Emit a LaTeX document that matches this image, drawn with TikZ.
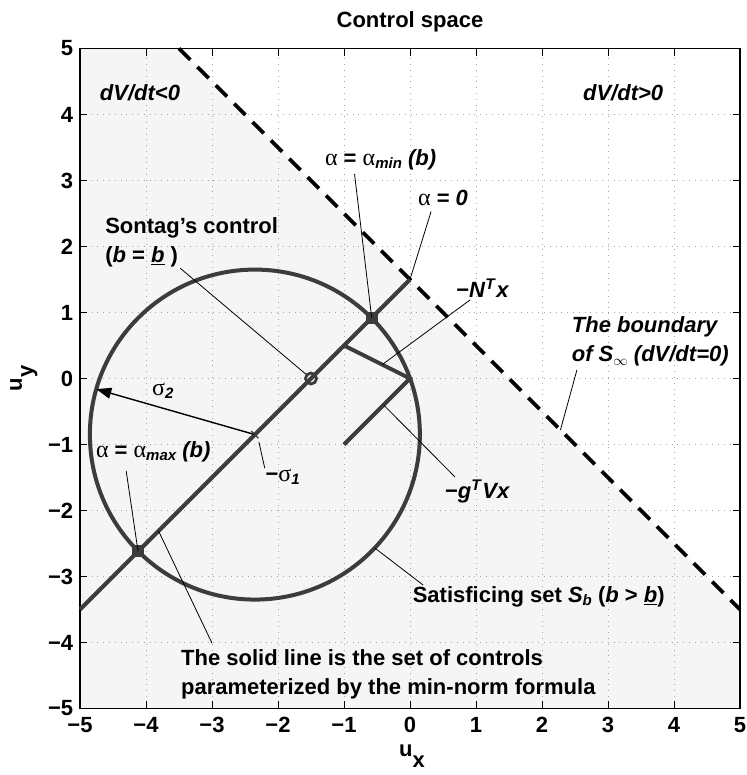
\documentclass[tikz,border=0pt]{standalone}
\usepackage{fontspec}
\setmainfont{Liberation Sans}
\newfontfamily\grk{Liberation Serif}
\usetikzlibrary{arrows.meta,shapes.misc}

\definecolor{darkline}{HTML}{3C3C3C}
\definecolor{regionfill}{HTML}{F5F5F5}
\newcommand{\lblfont}{\fontsize{22}{29}\selectfont\bfseries}
\newcommand{\lowtxt}[1]{\raisebox{-0.12em}{\fontsize{15}{15}\selectfont\bfseries\itshape #1}}
\newcommand{\gr}[1]{{\grk\mdseries\upshape\fontsize{24}{29}\selectfont #1}}

\tikzset{
  curve/.style={line width=4pt,draw=darkline},
  bound/.style={line width=3.8pt,dash pattern=on 16pt off 10pt},
  gridline/.style={gray!70,line width=0.7pt,dash pattern=on 0.8pt off 5pt},
  tickline/.style={line width=0.8pt},
  leader/.style={line width=0.8pt},
  lbl/.style={inner sep=0pt,anchor=west,font=\lblfont,align=left},
  ticklbl/.style={inner sep=0pt,font=\lblfont},
  sqmark/.style={rectangle,fill=darkline,minimum size=12pt,inner sep=0pt},
  ringmark/.style={circle,draw=darkline,line width=2.8pt,minimum size=11pt,inner sep=0pt},
  crossmark/.style={cross out,draw=darkline,line width=1.2pt,minimum size=6pt,inner sep=0pt}
}

\begin{document}
\begin{tikzpicture}[x=66pt,y=66pt]
    \useasboundingbox (-6.212,-6.008) rectangle (5.106,5.735);
    % half plane dV/dt<0
    \fill[regionfill] (-5,-5) -- (5,-5) -- (5,-3.5) -- (-3.5,5) -- (-5,5) -- cycle;
    \foreach \k in {-4,...,4} {
        \draw[gridline] (\k,-5) -- (\k,5);
        \draw[gridline] (-5,\k) -- (5,\k);
    }
    \foreach \k in {-5,...,5} {
        \draw[tickline] (\k,-5) -- ++(0,0.11);
        \draw[tickline] (\k,5) -- ++(0,-0.11);
        \draw[tickline] (-5,\k) -- ++(0.11,0);
        \draw[tickline] (5,\k) -- ++(-0.11,0);
    }
    \foreach \k/\t in {-5/−5,-4/−4,-3/−3,-2/−2,-1/−1,0/0,1/1,2/2,3/3,4/4,5/5} {
        \node[ticklbl] (xt\k) at (\k,-5.25) {\t};
        \node[ticklbl,anchor=east] (yt\k) at (-5.1,\k) {\t};
    }
    \draw[line width=1.2pt] (-5,-5) rectangle (5,5);
    \node[ticklbl] (title) at (0,5.41) {Control space};
    \node[ticklbl] (xlab) at (0.03,-5.72) {u\raisebox{-0.5em}{x}};
    \node[ticklbl,rotate=90] (ylab) at (-5.85,0) {u\raisebox{-0.5em}{y}};

    % geometry
    \coordinate (cen) at (-2.35,-0.85);
    \coordinate (orig) at (0,0);
    \coordinate (zero) at (0,1.5);
    \coordinate (lstart) at (-5,-3.5);
    \coordinate (nfoot) at (-1,0.5);
    \coordinate (gtail) at (-1,-1);
    \coordinate (s2) at ([shift={(164:2.5)}]cen);
    \coordinate (sat) at ([shift={(-43.4:2.5)}]cen);

    \draw[bound] (-3.5,5) -- (5,-3.5);
    \draw[curve] (cen) circle[radius=2.5];
    \draw[curve] (lstart) -- (zero);
    \draw[curve] (gtail) -- (orig) -- (nfoot);
    \draw[line width=1.4pt,-{Triangle[length=15pt,width=11pt]}] (cen) -- (s2);

    \node[sqmark] (amin) at (-0.58,0.92) {};
    \node[sqmark] (amax) at (-4.12,-2.62) {};
    \node[ringmark] (sontag) at (-1.5,0) {};
    \node[crossmark] (sig1) at (cen) {};

    % labels
    \node[lbl] (neg) at (-4.7,4.33) {\itshape dV/dt<0};
    \node[lbl] (pos) at (2.62,4.33) {\itshape dV/dt>0};
    \node[lbl] (lmin) at (-1.29,3.31) {\gr{α} = \gr{α}\lowtxt{min} \itshape (b)};
    \node[lbl] (lzero) at (0.12,2.73) {\gr{α} = \itshape 0};
    \node[lbl] (lsont) at (-4.62,2.06) {Sontag’s control\\(\textit{b} = \underline{\textit{b}} )};
    \node[lbl] (lsig2) at (-3.91,-0.19) {\gr{σ}\lowtxt{2}};
    \node[lbl] (lsig1) at (-2.19,-1.49) {−\gr{σ}\lowtxt{1}};
    \node[lbl] (lmax) at (-4.76,-1.11) {\gr{α} = \gr{α}\lowtxt{max} \itshape (b)};
    \node[lbl] (lnx) at (0.7,1.37) {−\textit{N}\textsuperscript{\textit{T}}\textit{x}};
    \node[lbl] (lbnd) at (2.45,0.56) {\itshape The boundary\\\itshape of S\raisebox{-0.15em}{\fontsize{15}{15}\selectfont$\infty$} (dV/dt=0)};
    \node[lbl] (lgv) at (0.53,-1.71) {−\textit{g}\textsuperscript{\textit{T}}\textit{Vx}};
    \node[lbl] (lsat) at (0.04,-3.31) {Satisficing set \textit{S}\lowtxt{b} (\textit{b} > \underline{\textit{b}})};
    \node[lbl] (lsol) at (-3.47,-4.48) {The solid line is the set of controls\\parameterized by the min-norm formula};

    % leader lines
    \coordinate (pmin) at (-0.84,3.1);
    \coordinate (pzero) at (0.32,2.53);
    \coordinate (psont) at (-3.48,1.67);
    \coordinate (pnx) at (0.91,1.19);
    \coordinate (qnx) at (-0.42,0.21);
    \coordinate (psig1) at (-2.2,-1.36);
    \coordinate (qsig1) at (-2.29,-0.96);
    \coordinate (pmax) at (-4.3,-1.4);
    \coordinate (psol) at (-3.0,-4.01);
    \coordinate (qsol) at (-3.81,-2.31);
    \coordinate (psat) at (0.2,-3.13);
    \coordinate (pgv) at (0.68,-1.49);
    \coordinate (qgv) at (-0.4,-0.4);
    \coordinate (pbnd) at (2.53,0.13);
    \coordinate (qbnd) at (2.28,-0.78);
    \draw[leader] (pmin) -- (amin.center);
    \draw[leader] (pzero) -- (zero);
    \draw[leader] (psont) -- (sontag);
    \draw[leader] (pnx) -- (qnx);
    \draw[leader] (psig1) -- (qsig1);
    \draw[leader] (pmax) -- (amax.center);
    \draw[leader] (psol) -- (qsol);
    \draw[leader] (psat) -- (sat);
    \draw[leader] (pgv) -- (qgv);
    \draw[leader] (pbnd) -- (qbnd);
\end{tikzpicture}
\end{document}
